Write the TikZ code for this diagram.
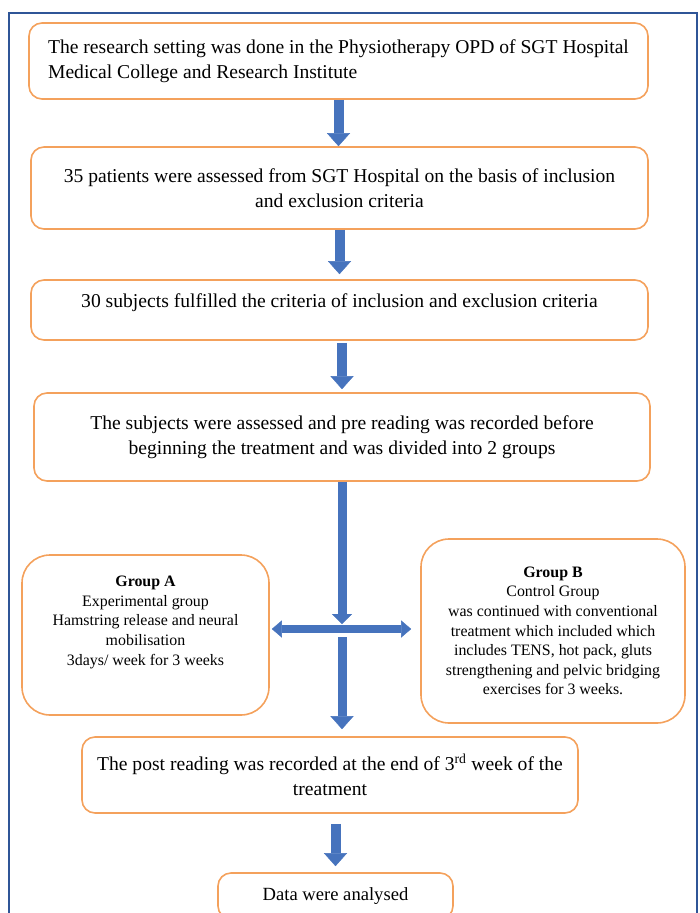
\documentclass[tikz,border=0pt]{standalone}
\usepackage{fontspec}
\setmainfont{Liberation Serif}
\usetikzlibrary{arrows.meta,calc,positioning}
\definecolor{morange}{HTML}{F4A15C}
\definecolor{mblue}{HTML}{4673BD}
\definecolor{mframe}{HTML}{2F5597}
\tikzstyle{l2}=[line width=1.6]
\tikzstyle{box}=[draw=morange, l2, rounded corners=13, align=center, inner sep=0, font=\fontsize{19.6}{25}\selectfont]
\tikzstyle{grpbox}=[box, rounded corners=28, font=\fontsize{15.9}{19.6}\selectfont]
\tikzstyle{barrow}=[draw=mblue, line width=10, -{Triangle[length=13pt, width=23pt, line width=0.4pt]}]
\tikzstyle{barrowboth}=[draw=mblue, line width=8, {Triangle[length=10pt, width=17pt, line width=0.4pt]}-{Triangle[length=10pt, width=17pt, line width=0.4pt]}]

\begin{document}
\begin{tikzpicture}[x=1pt, y=-1pt]
    \useasboundingbox (0,0) rectangle (700,913);
    \clip (0,0) rectangle (700,913);
    \draw[mframe, line width=1.3] (9,13) rectangle (697,940);

    \node[box, align=left, minimum width=619, minimum height=76] at (338.5,61) (b1)
        {The research setting was done in the Physiotherapy OPD of SGT Hospital\\Medical College and Research Institute};
    \node[box, minimum width=617, minimum height=82] at (339.5,188) (b2)
        {35 patients were assessed from SGT Hospital on the basis of inclusion\\and exclusion criteria};
    \node[box, minimum width=617, minimum height=60, text depth=18pt] at (339.5,310) (b3)
        {30 subjects fulfilled the criteria of inclusion and exclusion criteria};
    \node[box, minimum width=616, minimum height=88] at (342,437) (b4)
        {The subjects were assessed and pre reading was recorded before\\beginning the treatment and was divided into 2 groups};
    \node[grpbox, minimum width=247, minimum height=160] at (145.5,635) (grpA)
        {\textbf{Group A}\\Experimental group\\Hamstring release and neural\\mobilisation\\3days/ week for 3 weeks\\[9pt]\mbox{}};
    \node[grpbox, minimum width=264, minimum height=184] at (553,631) (grpB)
        {\textbf{Group B}\\Control Group\\was continued with conventional\\treatment which included which\\includes TENS, hot pack, gluts\\strengthening and pelvic bridging\\exercises for 3 weeks.};
    \node[box, minimum width=496, minimum height=76] at (330,775) (post)
        {The post reading was recorded at the end of 3\textsuperscript{rd} week of the\\treatment};
    \node[box, minimum width=235, minimum height=46, font=\fontsize{18.6}{22}\selectfont] at (335.5,896) (data)
        {Data were analysed};

    \coordinate (split) at (342,629);

    \draw[barrow] (b1.south) -- (b1.south |- b2.north);
    \draw[barrow, shorten >=5] (b2.south) -- (b2.south |- b3.north);
    \draw[barrow, shorten >=3, shorten <=2] (b3.south -| split) -- (split |- b4.north);
    \draw[barrow, line width=9, -{Triangle[length=10pt, width=20pt, line width=0.4pt]}] (b4.south -| split) -- ($(split)+(0,-5)$);
    \draw[barrowboth, shorten <=2, shorten >=9] (grpA.east |- split) -- (grpB.west |- split);
    \draw[barrow, line width=9, shorten >=7] ($(split)+(0,8)$) -- (split |- post.north);
    \draw[barrow, shorten <=10, shorten >=6] (post.south -| data) -- (data.north);
\end{tikzpicture}
\end{document}
